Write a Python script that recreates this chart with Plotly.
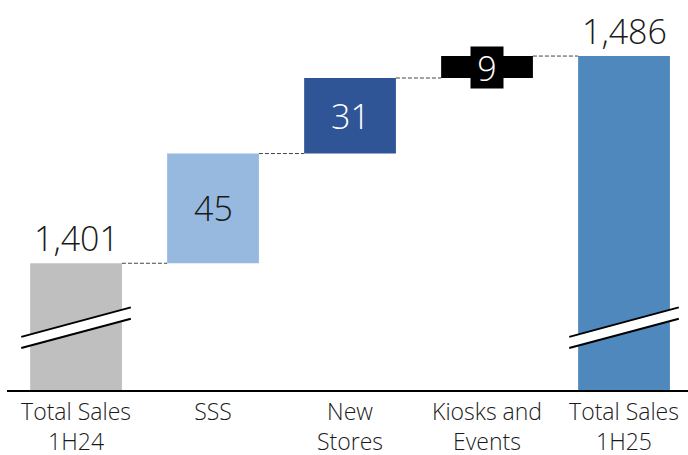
import plotly.graph_objects as go

# Sales bridge 1H24 -> 1H25
categories = ["Total Sales<br>1H24", "SSS", "New<br>Stores", "Kiosks and<br>Events", "Total Sales<br>1H25"]
start_total = 1401
increments = [45, 31, 9]
end_total = 1486

bar_colors = ["#BFBFBF", "#97B9E0", "#2F5597", "#000000", "#4F88BC"]
inc_text_colors = ["#1a1a1a", "#ffffff", "#ffffff"]

FONT = "Open Sans"
WEIGHT = 300
BAR_W = 0.67
Y_RANGE = [1349, 1509]

x = list(range(len(categories)))

# cumulative bases for the floating bars
bases = []
running = start_total
for d in increments:
    bases.append(running)
    running += d

fig = go.Figure()

# total bars start at zero and are clipped by the truncated axis
fig.add_trace(go.Bar(
    x=[x[0], x[-1]], y=[start_total, end_total],
    marker=dict(color=[bar_colors[0], bar_colors[-1]], line=dict(width=0)),
    width=BAR_W, hoverinfo="skip",
))
# floating increment bars
fig.add_trace(go.Bar(
    x=x[1:-1], y=increments, base=bases,
    marker=dict(color=bar_colors[1:-1], line=dict(width=0)),
    width=BAR_W, hoverinfo="skip",
))

# dashed connectors between consecutive bar tops
levels = [start_total] + [b + d for b, d in zip(bases, increments)]
for i, lvl in enumerate(levels):
    fig.add_trace(go.Scatter(
        x=[x[i] + BAR_W / 2, x[i + 1] - BAR_W / 2], y=[lvl, lvl],
        mode="lines", line=dict(color="#444444", width=1, dash="4px,2px"),
        hoverinfo="skip",
    ))

annotations = []
# total labels above the bars
for xi, v in [(x[0], start_total), (x[-1], end_total)]:
    annotations.append(dict(
        x=xi, y=v, text=f"{v:,}", showarrow=False, yanchor="bottom",
        font=dict(family=FONT, size=34, color="#1a1a1a", weight=WEIGHT),
    ))
# increment labels centred on the bars
for k, (b, d) in enumerate(zip(bases, increments)):
    ann = dict(
        x=x[k + 1], y=b + d / 2, text=f"{d}", showarrow=False,
        font=dict(family=FONT, size=34, color=inc_text_colors[k], weight=WEIGHT),
    )
    if k == 2:
        ann.update(bgcolor="#000000", width=32, height=41, borderpad=0)
    annotations.append(ann)

# axis-break marks across the total bars
shapes = []
for xi in (x[0], x[-1]):
    x0, x1 = xi - 0.40, xi + 0.40
    top = (1370.8, 1382.9)
    bot = (1366.2, 1378.2)
    shapes.append(dict(
        type="path", xref="x", yref="y",
        path=f"M{x0},{top[0]} L{x1},{top[1]} L{x1},{bot[1]} L{x0},{bot[0]} Z",
        fillcolor="white", line=dict(width=0), layer="above",
    ))
    for y0, y1 in (top, bot):
        shapes.append(dict(
            type="line", xref="x", yref="y", x0=x0, y0=y0, x1=x1, y1=y1,
            line=dict(color="black", width=2), layer="above",
        ))

fig.update_layout(
    width=688, height=455,
    margin=dict(l=7, r=0, t=0, b=65),
    paper_bgcolor="white", plot_bgcolor="white",
    showlegend=False, barmode="overlay",
    annotations=annotations, shapes=shapes,
    font=dict(family=FONT, color="#1a1a1a", weight=WEIGHT),
    xaxis=dict(
        range=[-0.504, 4.467], tickmode="array", tickvals=x, ticktext=categories,
        showline=True, linecolor="black", linewidth=2, showgrid=False,
        zeroline=False, ticks="", automargin=False, ticklabelstandoff=0,
        tickfont=dict(family=FONT, size=23, color="#1a1a1a", weight=WEIGHT),
        fixedrange=True,
    ),
    yaxis=dict(range=Y_RANGE, visible=False, showgrid=False, zeroline=False,
               fixedrange=True, automargin=False),
)

fig.write_html("out.html", config={"displayModeBar": False})
